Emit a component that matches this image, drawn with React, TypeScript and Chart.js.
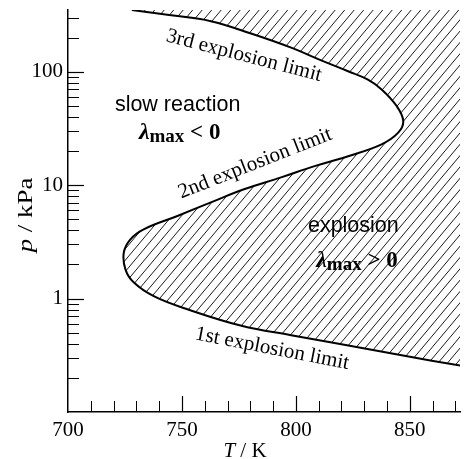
import React, { useEffect, useRef } from 'react';
import { Chart, registerables } from 'chart.js';

Chart.register(...registerables);

// Explosion-limit boundary, traced from the top (3rd limit) through the nose, 2nd limit, down to the 1st limit
const temperatureK = [728.0, 744.4, 762.7, 780.3, 797.9, 811.1, 822.9, 831.4, 837.6, 844.2, 847.1, 844.9, 837.6, 822.9, 808.2, 793.5, 777.2, 762.7, 748.0, 733.2, 727.4, 724.5, 725.2, 728.8, 737.6, 752.4, 776.1, 797.9, 820.0, 846.4, 872.8];
const pressureKPa = [350, 316, 279, 217, 163, 126, 101, 85.5, 69.8, 49.8, 36.7, 29.0, 22.9, 18.0, 14.7, 11.7, 9.2, 7.05, 5.35, 4.08, 3.33, 2.56, 1.81, 1.39, 1.05, 0.805, 0.576, 0.475, 0.396, 0.316, 0.255];

const xLabelTicks = [700, 750, 800, 850];
const xMajorTicks = [750, 800, 850];
const xMinorTicks = [710, 720, 730, 740, 760, 770, 780, 790, 810, 820, 830, 840, 860, 870];
const yLabelTicks = [1, 10, 100];
const yMajorTicks = [1, 10, 100];
const yMinorTicks = [0.2, 0.3, 0.4, 0.5, 0.6, 0.7, 0.8, 0.9, 2, 3, 4, 5, 6, 7, 8, 9, 20, 30, 40, 50, 60, 70, 80, 90, 200, 300];

const xMin = 700;
const xMax = 872;
const yMin = 0.1;
const yMax = 350;

// Curve labels: text, anchor (T, p), rotation in degrees
const limitLabels = ['3rd explosion limit', '2nd explosion limit', '1st explosion limit'];
const limitLabelT = [776.6, 783.0, 789.1];
const limitLabelP = [124, 13.97, 0.323];
const limitLabelAngle = [14.5, -21.5, 11];

const regionNames = ['slow reaction', 'explosion'];
const regionNameT = [748.1, 825.2];
const regionNameP = [44.7, 3.84];
const regionRelations = ['<', '>'];
const regionRelT = [749.0, 826.8];
const regionRelP = [25.3, 1.89];

const SERIF = '"Liberation Serif", "Times New Roman", serif';
const SANS = '"Liberation Sans", Arial, sans-serif';

type Run = { text: string; font: string; dy?: number };

function drawRuns(ctx: CanvasRenderingContext2D, runs: Run[], x: number, y: number) {
  let total = 0;
  const widths = runs.map((r) => {
    ctx.font = r.font;
    const w = ctx.measureText(r.text).width;
    total += w;
    return w;
  });
  let cx = x - total / 2;
  ctx.textAlign = 'left';
  ctx.textBaseline = 'alphabetic';
  runs.forEach((r, i) => {
    ctx.font = r.font;
    ctx.fillText(r.text, cx, y + (r.dy || 0));
    cx += widths[i];
  });
}

const hatchPlugin = {
  id: 'hatchRegion',
  beforeDatasetsDraw(chart: any) {
    const meta = chart.getDatasetMeta(0);
    const line = meta.dataset;
    const pts = meta.data;
    if (!line || !pts.length) return;
    const { ctx, chartArea: a } = chart;
    line.updateControlPoints(a, 'x');
    ctx.save();
    ctx.beginPath();
    ctx.rect(a.left, a.top, a.right - a.left, a.bottom - a.top);
    ctx.clip();
    ctx.beginPath();
    line.path(ctx);
    const first = pts[0];
    const last = pts[pts.length - 1];
    ctx.lineTo(a.right + 30, last.y);
    ctx.lineTo(a.right + 30, a.top - 30);
    ctx.lineTo(first.x, a.top - 30);
    ctx.closePath();
    ctx.clip();
    const ang = (50 * Math.PI) / 180;
    const h = a.bottom - a.top + 40;
    const dx = h / Math.tan(ang);
    ctx.beginPath();
    for (let x = a.left - dx - 20; x < a.right + 20; x += 9.5) {
      ctx.moveTo(x, a.bottom + 20);
      ctx.lineTo(x + dx, a.top - 20);
    }
    ctx.lineWidth = 0.9;
    ctx.strokeStyle = '#000';
    ctx.stroke();
    ctx.restore();
  },
};

const ticksPlugin = {
  id: 'innerTicks',
  afterDraw(chart: any) {
    const { ctx, chartArea: a, scales } = chart;
    const xs = scales.x;
    const ys = scales.y;
    ctx.save();
    ctx.strokeStyle = '#000';
    const vTick = (v: number, len: number, w: number) => {
      const px = Math.round(xs.getPixelForValue(v)) + 0.5;
      ctx.lineWidth = w;
      ctx.beginPath();
      ctx.moveTo(px, a.bottom);
      ctx.lineTo(px, a.bottom - len);
      ctx.stroke();
    };
    const hTick = (v: number, len: number, w: number) => {
      const py = Math.round(ys.getPixelForValue(v)) + 0.5;
      ctx.lineWidth = w;
      ctx.beginPath();
      ctx.moveTo(a.left, py);
      ctx.lineTo(a.left + len, py);
      ctx.stroke();
    };
    xMajorTicks.forEach((v) => vTick(v, 16, 1.2));
    xMinorTicks.forEach((v) => vTick(v, 11, 1));
    yMajorTicks.forEach((v) => hTick(v, 16, 1.2));
    yMinorTicks.forEach((v) => hTick(v, 11, 1));
    ctx.restore();
  },
};

const textPlugin = {
  id: 'annotations',
  afterDraw(chart: any) {
    const { ctx, scales } = chart;
    const xs = scales.x;
    const ys = scales.y;
    ctx.save();
    ctx.fillStyle = '#000';

    // limit labels along the curve
    limitLabels.forEach((txt, i) => {
      const px = xs.getPixelForValue(limitLabelT[i]);
      const py = ys.getPixelForValue(limitLabelP[i]);
      ctx.save();
      ctx.translate(px, py);
      ctx.rotate((limitLabelAngle[i] * Math.PI) / 180);
      ctx.font = `21px ${SERIF}`;
      ctx.textAlign = 'center';
      ctx.textBaseline = 'alphabetic';
      ctx.fillText(txt, 0, 0);
      ctx.restore();
    });

    // region names
    regionNames.forEach((txt, i) => {
      const px = xs.getPixelForValue(regionNameT[i]);
      const py = ys.getPixelForValue(regionNameP[i]);
      ctx.font = `21.5px ${SANS}`;
      ctx.textAlign = 'center';
      ctx.textBaseline = 'alphabetic';
      ctx.fillText(txt, px, py);
    });

    // lambda_max relations
    regionRelations.forEach((rel, i) => {
      const px = xs.getPixelForValue(regionRelT[i]);
      const py = ys.getPixelForValue(regionRelP[i]);
      drawRuns(
        ctx,
        [
          { text: 'λ', font: `italic bold 24px ${SERIF}` },
          { text: 'max', font: `bold 19px ${SERIF}`, dy: 2.5 },
          { text: ` ${rel} 0`, font: `bold 23px ${SERIF}` },
        ],
        px,
        py
      );
    });

    // axis titles
    drawRuns(
      ctx,
      [
        { text: 'T', font: `italic 21px ${SERIF}` },
        { text: ' / K', font: `21px ${SERIF}` },
      ],
      245,
      456.5
    );
    ctx.save();
    ctx.translate(31.5, 215);
    ctx.rotate(-Math.PI / 2);
    ctx.scale(1.28, 1);
    drawRuns(
      ctx,
      [
        { text: 'p', font: `italic 21px ${SERIF}` },
        { text: ' / kPa', font: `21px ${SERIF}` },
      ],
      0,
      0
    );
    ctx.restore();

    ctx.restore();
  },
};

export default function App() {
  const ref = useRef<HTMLCanvasElement>(null);

  useEffect(() => {
    const canvas = ref.current;
    if (!canvas) return;
    const chart = new Chart(canvas, {
      type: 'line',
      data: {
        datasets: [
          {
            data: temperatureK.map((t, i) => ({ x: t, y: pressureKPa[i] })),
            borderColor: '#000',
            borderWidth: 2,
            pointRadius: 0,
            tension: 0.4,
            capBezierPoints: false,
            fill: false,
          },
        ],
      },
      options: {
        responsive: false,
        animation: false,
        events: [],
        layout: { padding: { top: 10, right: 4, left: 0, bottom: 0 } },
        plugins: { legend: { display: false }, tooltip: { enabled: false } },
        scales: {
          x: {
            type: 'linear',
            min: xMin,
            max: xMax,
            afterBuildTicks: (s: any) => {
              s.ticks = xLabelTicks.map((v) => ({ value: v }));
            },
            afterFit: (s: any) => {
              s.height = 47;
              s.paddingLeft = 0;
              s.paddingRight = 0;
            },
            grid: { display: true, drawOnChartArea: false, drawTicks: false },
            border: { display: true, color: '#000', width: 1.5 },
            ticks: {
              color: '#000',
              font: { family: SERIF, size: 21 },
              padding: 6,
              maxRotation: 0,
              autoSkip: false,
              callback: (v: any) => String(v),
            },
          },
          y: {
            type: 'logarithmic',
            min: yMin,
            max: yMax,
            afterBuildTicks: (s: any) => {
              s.ticks = yLabelTicks.map((v) => ({ value: v }));
            },
            afterFit: (s: any) => {
              s.width = 68;
              s.paddingTop = 0;
              s.paddingBottom = 0;
            },
            grid: { display: true, drawOnChartArea: false, drawTicks: false },
            border: { display: true, color: '#000', width: 1.5 },
            ticks: {
              color: '#000',
              font: { family: SERIF, size: 21 },
              padding: 5,
              autoSkip: false,
              callback: (v: any) => String(v),
            },
          },
        },
      },
      plugins: [hatchPlugin, ticksPlugin, textPlugin],
    } as any);
    return () => chart.destroy();
  }, []);

  return (
    <div style={{ position: 'fixed', left: 0, top: 0, width: 464, height: 459, background: '#fff' }}>
      <canvas ref={ref} width={464} height={459} style={{ display: 'block', width: 464, height: 459 }} />
    </div>
  );
}
